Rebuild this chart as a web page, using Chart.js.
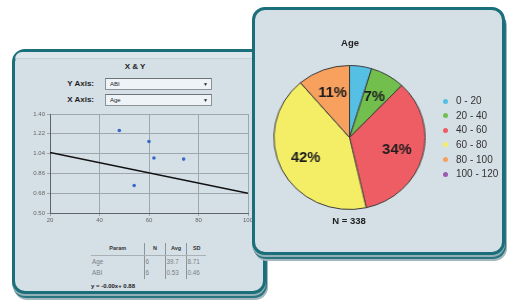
<!DOCTYPE html>
<html>
<head>
<meta charset="utf-8">
<script src="https://cdn.jsdelivr.net/npm/chart.js@4/dist/chart.umd.min.js"></script>
<style>
  html, body { margin:0; padding:0; width:507px; height:302px; overflow:hidden; background:#ffffff;
    font-family:"Liberation Sans", Arial, sans-serif; }
  .abs { position:absolute; }
  .panel { position:absolute; box-sizing:border-box; border:3px solid #1b6f7a; border-radius:13px;
    background:#d5dfe6;
    box-shadow: 0 2px 0 #93b0b6, 1px 4px 0 #2a7581, 2px 6px 0 #a3b8bd; }
  .b { font-weight:bold; color:#1e1e1e; white-space:nowrap; }
  .sel { position:absolute; box-sizing:border-box; border:1px solid #8c9297; border-top-color:#6d7378;
    background:#eef3f7; height:12px; width:107px; font-size:6px; line-height:10px; padding-left:4px; color:#222; }
  .sel span.arr { position:absolute; right:3px; top:0; font-size:5px; line-height:10px; color:#222; }
  table.st { position:absolute; border-collapse:collapse; font-size:6.3px; color:#7a7f84; }
  table.st td, table.st th { padding:0 0 0 1px; height:11.5px; line-height:11.5px; white-space:nowrap; }
  table.st th { font-weight:bold; font-size:5.5px; color:#333; text-align:center; border-bottom:1px solid #a9b1b7; height:11px; }
  table.st .sep { border-left:1px solid #8d949a; }
  .leg { position:absolute; font-size:10px; color:#333; white-space:nowrap; }
  .dot { position:absolute; width:5px; height:5px; border-radius:50%; }
</style>
</head>
<body>
<!-- left panel -->
<div class="panel" id="leftPanel" style="left:12px; top:49px; width:254px; height:245px; z-index:1;">
  <div class="abs" style="left:0; top:0; right:0; height:6px; background:#dde6ec; border-bottom:1px solid #c4cfd6; border-radius:10px 10px 0 0;"></div>
</div>
<div class="abs b" style="left:115px; top:62px; width:40px; text-align:center; font-size:8px; z-index:2;">X &amp; Y</div>
<div class="abs b" style="left:50px; top:79px; width:44px; text-align:right; font-size:8px; z-index:2;">Y Axis:</div>
<div class="abs b" style="left:50px; top:95px; width:44px; text-align:right; font-size:8px; z-index:2;">X Axis:</div>
<div class="sel" style="left:105px; top:78px; z-index:2;">ABI<span class="arr">▼</span></div>
<div class="sel" style="left:105px; top:94px; z-index:2;">Age<span class="arr">▼</span></div>
<div class="abs" style="left:15px; top:108px; width:240px; height:125px; z-index:2;"><canvas id="scatter"></canvas></div>
<table class="st" id="stats" style="left:91px; top:243px; z-index:2;"></table>
<div class="abs b" id="eq" style="left:91px; top:283px; font-size:6px; z-index:2;"></div>

<!-- right panel -->
<div class="panel" id="rightPanel" style="left:252px; top:7px; width:253px; height:248px; z-index:5;"></div>
<div class="abs b" id="pieTitle" style="left:310px; top:37px; width:80px; text-align:center; font-size:9.5px; z-index:6;"></div>
<div class="abs" style="left:277px; top:65px; width:145px; height:145px; z-index:6; transform:scaleX(1.05); transform-origin:72.5px 72.5px;"><canvas id="pie"></canvas></div>
<div class="abs b" id="pieN" style="left:309px; top:215px; width:80px; text-align:center; font-size:9.5px; z-index:6;"></div>
<div id="legend" class="abs" style="left:0; top:0; z-index:6;"></div>

<script>
// ---------- data ----------
const scatterX = [48, 54, 60, 62, 74];
const scatterY = [1.25, 0.75, 1.15, 1.00, 0.99];
const fitX = [20, 100];
const fitY = [1.05, 0.68];
const xTicks = [20, 40, 60, 80, 100];
const yTicks = [0.50, 0.68, 0.86, 1.04, 1.22, 1.40];

const statParams = ['Age', 'ABI'];
const statN = [6, 6];
const statAvg = ['39.7', '0.53'];
const statSD = ['8.71', '0.46'];
const equation = 'y = -0.00x+ 0.88';

const pieTitle = 'Age';
const ageGroups = ['0 - 20', '20 - 40', '40 - 60', '60 - 80', '80 - 100', '100 - 120'];
const ageCounts = [16, 25, 116, 143, 38, 0];
const pieColors = ['#55bfe4', '#72bf4e', '#ee5d63', '#f4ee66', '#f8a15f', '#9c5bb0'];

// ---------- table & text ----------
(function () {
  const t = document.getElementById('stats');
  let h = '<colgroup><col style="width:53px"><col style="width:21px"><col style="width:21px"><col style="width:20px"></colgroup>';
  h += '<tr><th>Param</th><th class="sep">N</th><th class="sep">Avg</th><th class="sep">SD</th></tr>';
  statParams.forEach((p, i) => {
    h += '<tr><td>' + p + '</td><td class="sep">' + statN[i] + '</td><td class="sep">' + statAvg[i] + '</td><td class="sep">' + statSD[i] + '</td></tr>';
  });
  t.innerHTML = h;
  document.getElementById('eq').textContent = equation;
  document.getElementById('pieTitle').textContent = pieTitle;
  const total = ageCounts.reduce((a, b) => a + b, 0);
  document.getElementById('pieN').textContent = 'N = ' + total;
  const leg = document.getElementById('legend');
  let lh = '';
  ageGroups.forEach((g, i) => {
    const y = 101 + i * 14.65;
    lh += '<div class="dot" style="left:442.5px; top:' + (y - 2.5) + 'px; background:' + pieColors[i] + '"></div>';
    lh += '<div class="leg" style="left:456px; top:' + (y - 6) + 'px;">' + g + '</div>';
  });
  leg.innerHTML = lh;
})();

// ---------- scatter chart ----------
const font6 = { family: '"Liberation Sans", Arial, sans-serif', size: 6 };
new Chart(document.getElementById('scatter'), {
  type: 'scatter',
  data: {
    datasets: [
      {
        type: 'line',
        data: fitX.map((x, i) => ({ x: x, y: fitY[i] })),
        borderColor: '#111',
        borderWidth: 1.4,
        pointRadius: 0,
        fill: false,
        order: 1
      },
      {
        data: scatterX.map((x, i) => ({ x: x, y: scatterY[i] })),
        backgroundColor: '#3a68c8',
        borderColor: '#3a68c8',
        pointRadius: 1.8,
        borderWidth: 0,
        order: 0
      }
    ]
  },
  options: {
    responsive: true,
    maintainAspectRatio: false,
    animation: false,
    events: [],
    layout: { padding: { left: 0, right: 7, top: 6, bottom: 0 } },
    plugins: { legend: { display: false }, tooltip: { enabled: false } },
    scales: {
      x: {
        type: 'linear', min: 20, max: 100,
        afterBuildTicks: s => { s.ticks = xTicks.map(v => ({ value: v })); },
        afterFit: s => { s.height = 20; },
        grid: { color: '#9ea7ae', lineWidth: 1, tickLength: 3, drawTicks: true },
        border: { display: true, color: '#5d6368', width: 1 },
        ticks: { font: font6, color: '#666', padding: 1, maxRotation: 0, callback: v => String(v) }
      },
      y: {
        type: 'linear', min: 0.5, max: 1.4,
        afterBuildTicks: s => { s.ticks = yTicks.map(v => ({ value: v })); },
        afterFit: s => { s.width = 35; },
        grid: { color: '#9ea7ae', lineWidth: 1, tickLength: 3, drawTicks: true },
        border: { display: true, color: '#5d6368', width: 1 },
        ticks: { font: font6, color: '#666', padding: 2, callback: v => Number(v).toFixed(2) }
      }
    }
  }
});

// ---------- pie chart ----------
const pieLabels = {
  id: 'pieLabels',
  afterDatasetsDraw(chart) {
    const ctx = chart.ctx;
    const meta = chart.getDatasetMeta(0);
    const data = chart.data.datasets[0].data;
    const total = data.reduce((a, b) => a + b, 0);
    ctx.save();
    ctx.font = 'bold 14px "Liberation Sans", Arial, sans-serif';
    ctx.fillStyle = '#1e1e1e';
    ctx.textAlign = 'center';
    ctx.textBaseline = 'middle';
    meta.data.forEach((arc, i) => {
      const pct = data[i] / total * 100;
      if (pct < 5) return;
      const p = arc.getProps(['x', 'y', 'startAngle', 'endAngle', 'outerRadius'], true);
      const mid = (p.startAngle + p.endAngle) / 2;
      const r = p.outerRadius * 0.65;
      ctx.fillText(Math.round(pct) + '%', p.x + Math.cos(mid) * r, p.y + Math.sin(mid) * r);
    });
    ctx.restore();
  }
};
new Chart(document.getElementById('pie'), {
  type: 'pie',
  data: {
    labels: ageGroups,
    datasets: [{
      data: ageCounts,
      backgroundColor: pieColors,
      borderColor: '#3c3c3c',
      borderWidth: 1
    }]
  },
  options: {
    responsive: true,
    maintainAspectRatio: false,
    animation: false,
    events: [],
    layout: { padding: 0 },
    plugins: { legend: { display: false }, tooltip: { enabled: false } }
  },
  plugins: [pieLabels]
});
</script>
</body>
</html>
